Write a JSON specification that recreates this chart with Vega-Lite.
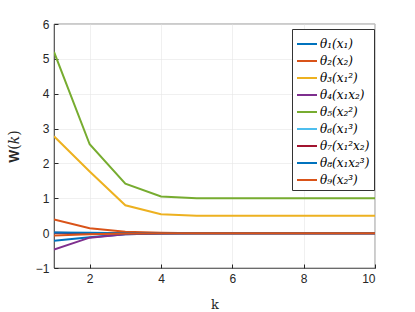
{
  "$schema": "https://vega.github.io/schema/vega-lite/v6.json",
  "width": 321,
  "height": 244,
  "autosize": "none",
  "padding": {"left": 54, "top": 24, "right": 40, "bottom": 44},
  "background": "white",
  "config": {
    "view": {"stroke": "#262626", "strokeWidth": 0.6},
    "axis": {
      "labelFont": "Liberation Sans",
      "labelFontSize": 12,
      "labelColor": "#262626",
      "labelPadding": 9,
      "domainColor": "#262626",
      "domainWidth": 0.6,
      "tickColor": "#262626",
      "tickSize": -4,
      "gridColor": "#e6e6e6",
      "gridWidth": 0.6,
      "titleFont": "DejaVu Serif",
      "titleColor": "#262626",
      "titleFontWeight": "normal"
    }
  },
  "data": {
    "values": [
      {"k":1,"s":"θ₁(x₁)","v":-0.22},{"k":2,"s":"θ₁(x₁)","v":-0.12},{"k":3,"s":"θ₁(x₁)","v":-0.03},{"k":4,"s":"θ₁(x₁)","v":-0.01},{"k":5,"s":"θ₁(x₁)","v":0},{"k":6,"s":"θ₁(x₁)","v":0},{"k":7,"s":"θ₁(x₁)","v":0},{"k":8,"s":"θ₁(x₁)","v":0},{"k":9,"s":"θ₁(x₁)","v":0},{"k":10,"s":"θ₁(x₁)","v":0},
      {"k":1,"s":"θ₂(x₂)","v":0.39},{"k":2,"s":"θ₂(x₂)","v":0.14},{"k":3,"s":"θ₂(x₂)","v":0.04},{"k":4,"s":"θ₂(x₂)","v":0.01},{"k":5,"s":"θ₂(x₂)","v":0},{"k":6,"s":"θ₂(x₂)","v":0},{"k":7,"s":"θ₂(x₂)","v":0},{"k":8,"s":"θ₂(x₂)","v":0},{"k":9,"s":"θ₂(x₂)","v":0},{"k":10,"s":"θ₂(x₂)","v":0},
      {"k":1,"s":"θ₃(x₁²)","v":2.78},{"k":2,"s":"θ₃(x₁²)","v":1.77},{"k":3,"s":"θ₃(x₁²)","v":0.8},{"k":4,"s":"θ₃(x₁²)","v":0.54},{"k":5,"s":"θ₃(x₁²)","v":0.5},{"k":6,"s":"θ₃(x₁²)","v":0.5},{"k":7,"s":"θ₃(x₁²)","v":0.5},{"k":8,"s":"θ₃(x₁²)","v":0.5},{"k":9,"s":"θ₃(x₁²)","v":0.5},{"k":10,"s":"θ₃(x₁²)","v":0.5},
      {"k":1,"s":"θ₄(x₁x₂)","v":-0.47},{"k":2,"s":"θ₄(x₁x₂)","v":-0.13},{"k":3,"s":"θ₄(x₁x₂)","v":-0.03},{"k":4,"s":"θ₄(x₁x₂)","v":-0.01},{"k":5,"s":"θ₄(x₁x₂)","v":0},{"k":6,"s":"θ₄(x₁x₂)","v":0},{"k":7,"s":"θ₄(x₁x₂)","v":0},{"k":8,"s":"θ₄(x₁x₂)","v":0},{"k":9,"s":"θ₄(x₁x₂)","v":0},{"k":10,"s":"θ₄(x₁x₂)","v":0},
      {"k":1,"s":"θ₅(x₂²)","v":5.2},{"k":2,"s":"θ₅(x₂²)","v":2.55},{"k":3,"s":"θ₅(x₂²)","v":1.42},{"k":4,"s":"θ₅(x₂²)","v":1.05},{"k":5,"s":"θ₅(x₂²)","v":1.0},{"k":6,"s":"θ₅(x₂²)","v":1.0},{"k":7,"s":"θ₅(x₂²)","v":1.0},{"k":8,"s":"θ₅(x₂²)","v":1.0},{"k":9,"s":"θ₅(x₂²)","v":1.0},{"k":10,"s":"θ₅(x₂²)","v":1.0},
      {"k":1,"s":"θ₆(x₁³)","v":0.01},{"k":2,"s":"θ₆(x₁³)","v":0.0},{"k":3,"s":"θ₆(x₁³)","v":0},{"k":4,"s":"θ₆(x₁³)","v":0},{"k":5,"s":"θ₆(x₁³)","v":0},{"k":6,"s":"θ₆(x₁³)","v":0},{"k":7,"s":"θ₆(x₁³)","v":0},{"k":8,"s":"θ₆(x₁³)","v":0},{"k":9,"s":"θ₆(x₁³)","v":0},{"k":10,"s":"θ₆(x₁³)","v":0},
      {"k":1,"s":"θ₇(x₁²x₂)","v":0.01},{"k":2,"s":"θ₇(x₁²x₂)","v":0.0},{"k":3,"s":"θ₇(x₁²x₂)","v":0},{"k":4,"s":"θ₇(x₁²x₂)","v":0},{"k":5,"s":"θ₇(x₁²x₂)","v":0},{"k":6,"s":"θ₇(x₁²x₂)","v":0},{"k":7,"s":"θ₇(x₁²x₂)","v":0},{"k":8,"s":"θ₇(x₁²x₂)","v":0},{"k":9,"s":"θ₇(x₁²x₂)","v":0},{"k":10,"s":"θ₇(x₁²x₂)","v":0},
      {"k":1,"s":"θ₈(x₁x₂³)","v":0.02},{"k":2,"s":"θ₈(x₁x₂³)","v":0.01},{"k":3,"s":"θ₈(x₁x₂³)","v":0.0},{"k":4,"s":"θ₈(x₁x₂³)","v":0},{"k":5,"s":"θ₈(x₁x₂³)","v":0},{"k":6,"s":"θ₈(x₁x₂³)","v":0},{"k":7,"s":"θ₈(x₁x₂³)","v":0},{"k":8,"s":"θ₈(x₁x₂³)","v":0},{"k":9,"s":"θ₈(x₁x₂³)","v":0},{"k":10,"s":"θ₈(x₁x₂³)","v":0},
      {"k":1,"s":"θ₉(x₂³)","v":-0.07},{"k":2,"s":"θ₉(x₂³)","v":-0.03},{"k":3,"s":"θ₉(x₂³)","v":-0.01},{"k":4,"s":"θ₉(x₂³)","v":0},{"k":5,"s":"θ₉(x₂³)","v":0},{"k":6,"s":"θ₉(x₂³)","v":0},{"k":7,"s":"θ₉(x₂³)","v":0},{"k":8,"s":"θ₉(x₂³)","v":0},{"k":9,"s":"θ₉(x₂³)","v":0},{"k":10,"s":"θ₉(x₂³)","v":0}
    ]
  },
  "mark": {"type": "line", "strokeWidth": 2, "clip": true},
  "encoding": {
    "x": {
      "field": "k", "type": "quantitative",
      "scale": {"domain": [1, 10], "nice": false, "zero": false},
      "axis": {"values": [2, 4, 6, 8, 10], "title": "k", "titleFontSize": 13, "titlePadding": 14}
    },
    "y": {
      "field": "v", "type": "quantitative",
      "scale": {"domain": [-1, 6], "nice": false},
      "axis": {"values": [-1, 0, 1, 2, 3, 4, 5, 6], "title": "𝐖(𝑘)", "titleFontSize": 14, "titlePadding": 14}
    },
    "color": {
      "field": "s", "type": "nominal",
      "scale": {
        "domain": ["θ₁(x₁)","θ₂(x₂)","θ₃(x₁²)","θ₄(x₁x₂)","θ₅(x₂²)","θ₆(x₁³)","θ₇(x₁²x₂)","θ₈(x₁x₂³)","θ₉(x₂³)"],
        "range": ["#0072BD","#D95319","#EDB120","#7E2F8E","#77AC30","#4DBEEE","#A2142F","#0072BD","#D95319"]
      },
      "legend": {
        "title": null,
        "orient": "none",
        "legendX": 238,
        "legendY": 5,
        "symbolType": "stroke",
        "symbolSize": 400,
        "symbolStrokeWidth": 2,
        "labelFont": "DejaVu Serif",
        "labelFontStyle": "italic",
        "labelFontSize": 12,
        "labelColor": "#000",
        "rowPadding": 0,
        "padding": 4,
        "strokeColor": "#333",
        "fillColor": "white",
        "labelOffset": 2
      }
    }
  }
}
